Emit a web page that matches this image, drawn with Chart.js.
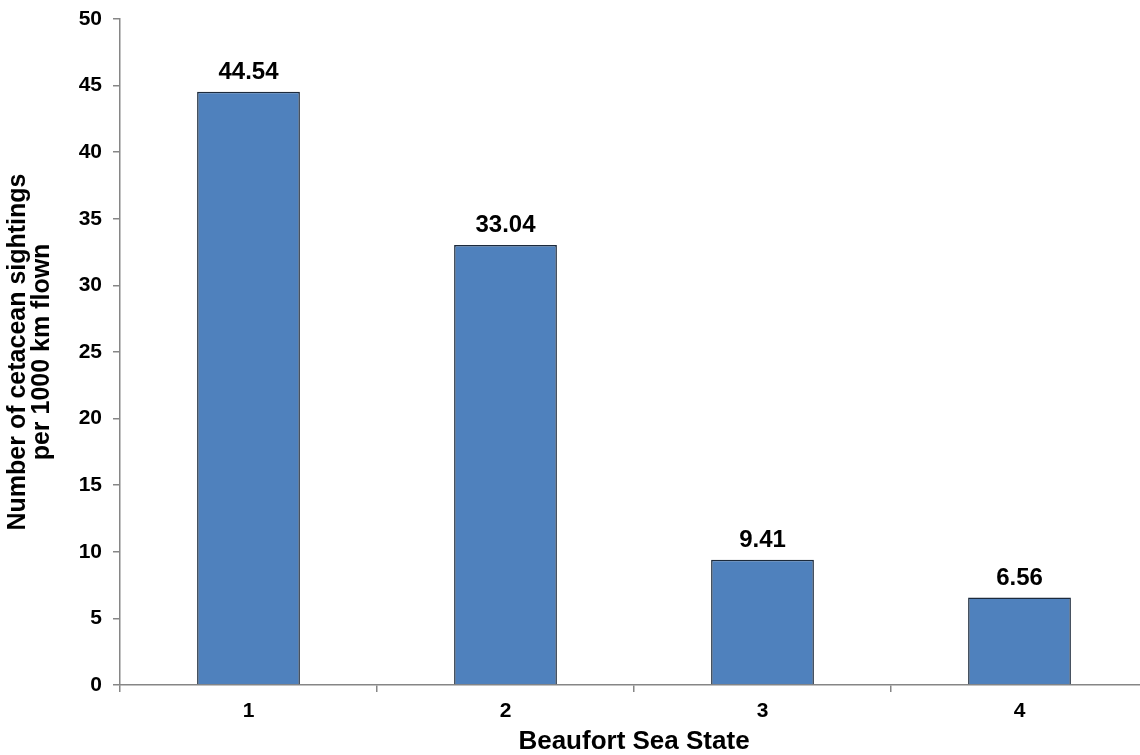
<!DOCTYPE html>
<html>
<head>
<meta charset="utf-8">
<script src="https://cdn.jsdelivr.net/npm/chart.js@4/dist/chart.umd.min.js"></script>
<style>
html,body{margin:0;padding:0;background:#fff;overflow:hidden;width:1140px;height:755px;}
canvas{display:block;}
</style>
</head>
<body>
<canvas id="c" width="1150" height="755"></canvas>
<script>
const categories = ["1", "2", "3", "4"];
const sightings = [44.54, 33.04, 9.41, 6.56];
const yTicks = [0, 5, 10, 15, 20, 25, 30, 35, 40, 45, 50];
const xTitle = "Beaufort Sea State";
const yTitle = ["Number of cetacean sightings", "per 1000 km flown"];

const FONT = "'Liberation Sans', Arial, sans-serif";

const valueLabels = {
  id: 'valueLabels',
  afterDatasetsDraw(chart) {
    const ctx = chart.ctx;
    const meta = chart.getDatasetMeta(0);
    ctx.save();
    ctx.font = "bold 24px " + FONT;
    ctx.fillStyle = "#000";
    ctx.textAlign = "center";
    ctx.textBaseline = "alphabetic";
    meta.data.forEach((bar, i) => {
      ctx.fillText(sightings[i].toFixed(2), bar.x, bar.y - 13);
    });
    ctx.restore();
  }
};

new Chart(document.getElementById('c'), {
  type: 'bar',
  data: {
    labels: categories,
    datasets: [{
      data: sightings,
      backgroundColor: '#4F81BD',
      borderColor: '#1C2A3C',
      borderWidth: 1.5,
      barPercentage: 0.4,
      categoryPercentage: 1.0
    }]
  },
  options: {
    responsive: false,
    animation: false,
    layout: { padding: { top: 19, right: 2, left: 0, bottom: 0 } },
    plugins: { legend: { display: false }, tooltip: { enabled: false } },
    scales: {
      x: {
        offset: true,
        grid: { drawOnChartArea: false, offset: true, tickLength: 7, color: '#868686', lineWidth: 1.5 },
        border: { color: '#868686', width: 1.5 },
        ticks: { color: '#000', font: { family: FONT, size: 21, weight: 'bold' }, padding: 7 },
        title: { display: true, text: xTitle, color: '#000', font: { family: FONT, size: 26, weight: 'bold', lineHeight: 1.0 }, padding: { top: 6, bottom: 0 } },
        afterFit(scale) { scale.height = 70; }
      },
      y: {
        min: 0, max: 50,
        afterBuildTicks(scale) { scale.ticks = yTicks.map(v => ({ value: v })); },
        grid: { drawOnChartArea: false, tickLength: 7, color: '#868686', lineWidth: 1.5 },
        border: { color: '#868686', width: 1.5 },
        ticks: { color: '#000', font: { family: FONT, size: 21, weight: 'bold' }, padding: 11 },
        title: { display: true, text: yTitle, color: '#000', font: { family: FONT, size: 25, weight: 'bold', lineHeight: 0.96 }, padding: { top: 6, bottom: 6 } },
        afterFit(scale) { scale.width = 120; scale.paddingTop = 0; scale.paddingBottom = 0; }
      }
    }
  },
  plugins: [valueLabels]
});
</script>
</body>
</html>
